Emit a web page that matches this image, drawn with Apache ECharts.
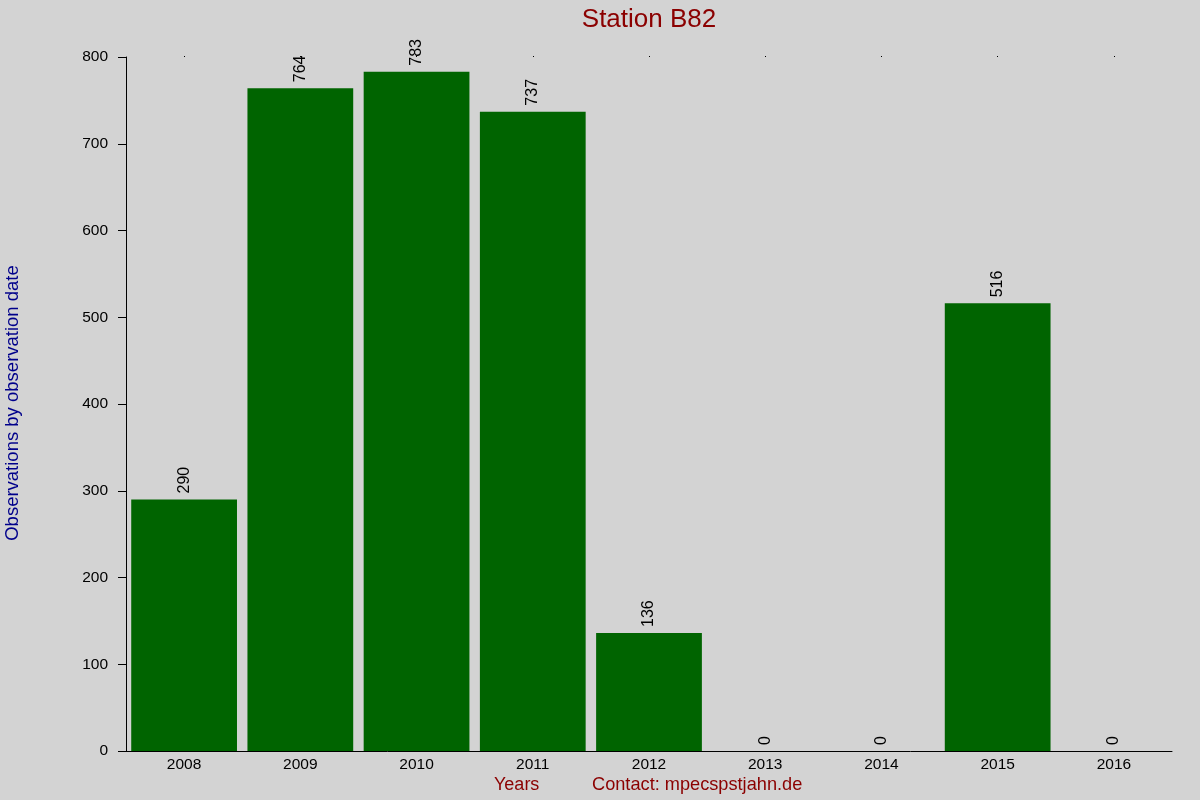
<!DOCTYPE html>
<html><head><meta charset="utf-8">
<script src="https://cdn.jsdelivr.net/npm/echarts@6/dist/echarts.min.js"></script>
<style>html,body{margin:0;padding:0;background:#d3d3d3;}#c{width:1200px;height:800px;}</style>
</head><body><div id="c"></div>
<script>
const years = ['2008','2009','2010','2011','2012','2013','2014','2015','2016'];
const observations = [290, 764, 783, 737, 136, 0, 0, 516, 0];
const yTicks = {min: 0, max: 800, interval: 100};

const FONT = 'Liberation Sans, Arial, sans-serif';
const chart = echarts.init(document.getElementById('c'));
chart.setOption({
  backgroundColor: '#d3d3d3',
  animation: false,
  title: {
    text: 'Station B82', left: 644, top: 2, textAlign: 'center',
    textStyle: {color: '#8b0000', fontSize: 26, fontWeight: 'normal', fontFamily: FONT}
  },
  grid: {left: 126, right: 28, top: 57, bottom: 49, containLabel: false},
  xAxis: [{
    type: 'category', data: years, position: 'bottom',
    axisLine: {show: true, lineStyle: {color: '#000', width: 1}},
    axisTick: {show: false},
    axisLabel: {color: '#000', fontSize: 15.5, fontFamily: FONT, margin: 6},
    splitLine: {show: false}
  }, {
    type: 'category', data: years, position: 'top',
    axisLine: {show: false},
    axisTick: {show: true, alignWithLabel: true, length: 1, lineStyle: {color: '#000'}},
    axisLabel: {show: false}
  }],
  yAxis: {
    type: 'value', min: yTicks.min, max: yTicks.max, interval: yTicks.interval,
    axisLine: {show: true, lineStyle: {color: '#000', width: 1}},
    axisTick: {show: true, length: 8, lineStyle: {color: '#000'}},
    axisLabel: {color: '#000', fontSize: 15.5, fontFamily: FONT, margin: 18},
    splitLine: {show: false}
  },
  graphic: [
    {type: 'text', left: 494, top: 776, style: {text: 'Years', fill: '#8b0000', font: '18px ' + FONT}},
    {type: 'text', left: 592, top: 776, style: {text: 'Contact: mpecspstjahn.de', fill: '#8b0000', font: '18.2px ' + FONT}},
    {type: 'text', x: 3, y: 403, rotation: Math.PI / 2,
     style: {text: 'Observations by observation date', fill: '#00008b', font: '18.5px ' + FONT, textAlign: 'center', textVerticalAlign: 'top'}}
  ],
  series: [{
    type: 'bar', data: observations, barCategoryGap: '9%',
    itemStyle: {color: '#006400'},
    label: {show: true, position: 'top', rotate: 90, align: 'left', verticalAlign: 'middle', distance: 6,
      color: '#000', fontSize: 16, fontFamily: FONT}
  }]
});
</script></body></html>
